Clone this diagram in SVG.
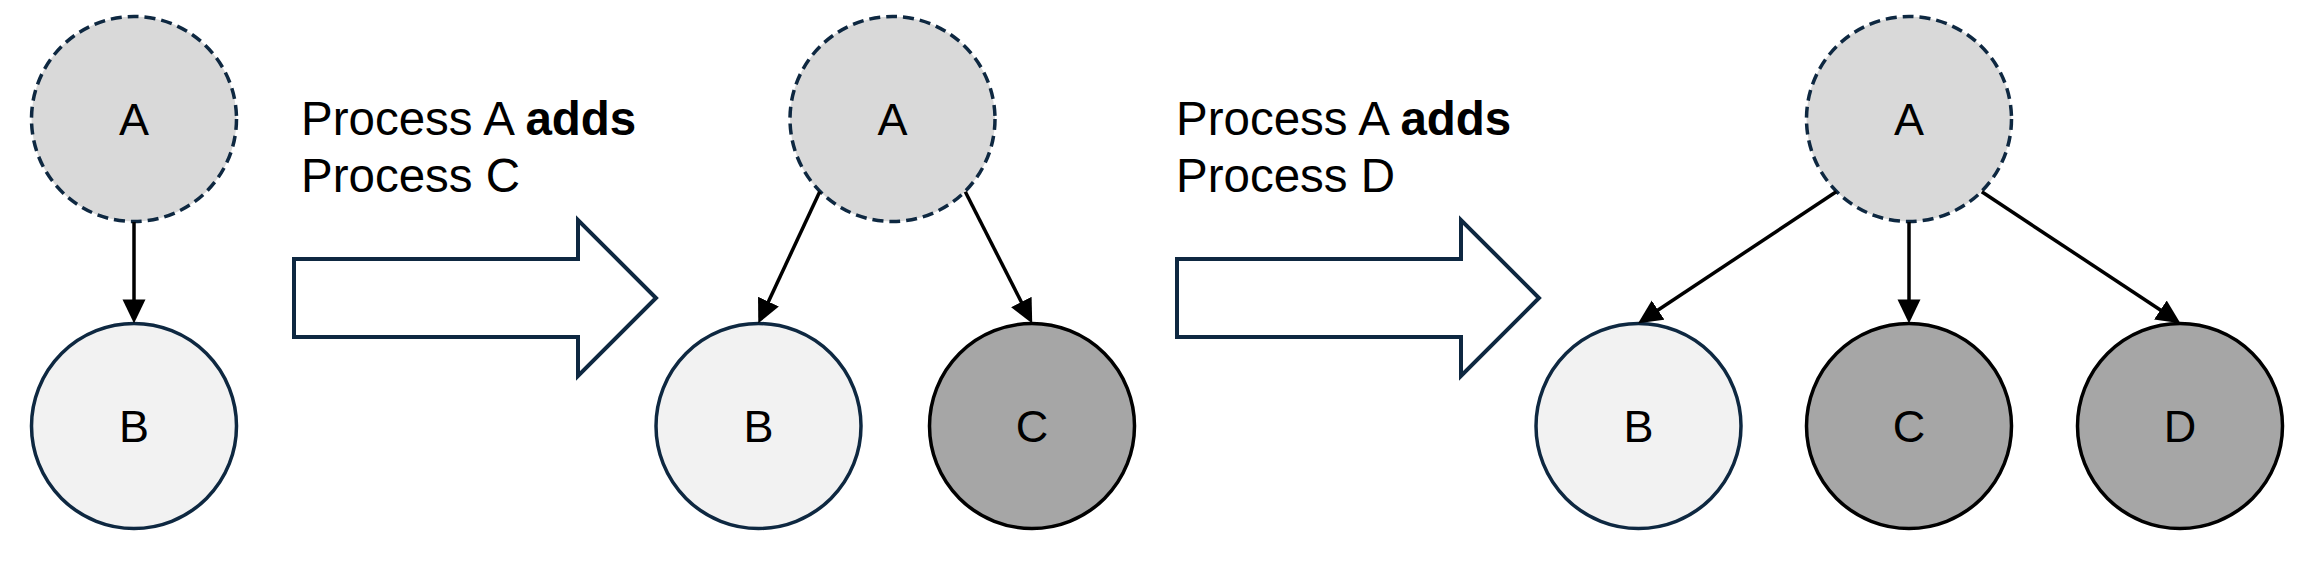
<svg xmlns="http://www.w3.org/2000/svg" width="2298" height="562" viewBox="0 0 2298 562">
  <style>
    .txt { font-family: "Liberation Sans", Arial, sans-serif; fill: #000000; }
    .lbl { font-family: "Liberation Sans", Arial, sans-serif; font-size: 45px; fill: #000000; text-anchor: middle; }
    .cap { font-size: 47.5px; }
    .a { fill: #D9D9D9; stroke: #0E2841; stroke-width: 3.5; stroke-dasharray: 11 6; }
    .b { fill: #F2F2F2; stroke: #0E2841; stroke-width: 3.5; }
    .c { fill: #A6A6A6; stroke: #000000; stroke-width: 3.5; }
    .edge { stroke: #000000; stroke-width: 3.5; fill: none; marker-end: url(#ah); }
    .big { fill: #FFFFFF; stroke: #0E2841; stroke-width: 4; stroke-linejoin: miter; }
  </style>
  <defs>
    <marker id="ah" markerUnits="userSpaceOnUse" markerWidth="24" markerHeight="24" viewBox="0 0 23 22" refX="13" refY="11" orient="auto">
      <path d="M0,0 L23,11 L0,22 Z" fill="#000000"/>
    </marker>
  </defs>

  <!-- Panel 1 -->
  <g id="p1-A"><circle class="a" cx="134" cy="119" r="102.5"/><text class="lbl" x="134" y="135">A</text></g>
  <g id="p1-B"><circle class="b" cx="134" cy="426" r="102.5"/><text class="lbl" x="134" y="442">B</text></g>

  <g id="step1">
    <text class="txt cap" x="301" y="135">Process A <tspan font-weight="bold">adds</tspan></text>
    <text class="txt cap" x="301" y="191.7">Process C</text>
    <path class="big" d="M294,259 L578,259 L578,220 L656,298 L578,376 L578,337 L294,337 Z"/>
  </g>

  <!-- Panel 2 -->
  <g id="p2-A"><circle class="a" cx="892.5" cy="119" r="102.5"/><text class="lbl" x="892.5" y="135">A</text></g>
  <g id="p2-B"><circle class="b" cx="758.5" cy="426" r="102.5"/><text class="lbl" x="758.5" y="442">B</text></g>
  <g id="p2-C"><circle class="c" cx="1032" cy="426" r="102.5"/><text class="lbl" x="1032" y="442">C</text></g>

  <g id="step2">
    <text class="txt cap" x="1176" y="135">Process A <tspan font-weight="bold">adds</tspan></text>
    <text class="txt cap" x="1176" y="191.7">Process D</text>
    <path class="big" d="M1177,259 L1461,259 L1461,220 L1539,298 L1461,376 L1461,337 L1177,337 Z"/>
  </g>

  <!-- Panel 3 -->
  <g id="p3-A"><circle class="a" cx="1909" cy="119" r="102.5"/><text class="lbl" x="1909" y="135">A</text></g>
  <g id="p3-B"><circle class="b" cx="1638.5" cy="426" r="102.5"/><text class="lbl" x="1638.5" y="442">B</text></g>
  <g id="p3-C"><circle class="c" cx="1909" cy="426" r="102.5"/><text class="lbl" x="1909" y="442">C</text></g>
  <g id="p3-D"><circle class="c" cx="2180" cy="426" r="102.5"/><text class="lbl" x="2180" y="442">D</text></g>

  <!-- Connectors -->
  <g id="connectors">
    <line class="edge" x1="134" y1="222" x2="134" y2="313"/>
    <line class="edge" x1="819.7" y1="191.8" x2="762.7" y2="313.9"/>
    <line class="edge" x1="965.3" y1="191.8" x2="1027.5" y2="314.1"/>
    <line class="edge" x1="1836.2" y1="191.8" x2="1646.8" y2="317.5"/>
    <line class="edge" x1="1909" y1="222" x2="1909" y2="313"/>
    <line class="edge" x1="1981.8" y1="191.8" x2="2171.7" y2="317.5"/>
  </g>
</svg>
